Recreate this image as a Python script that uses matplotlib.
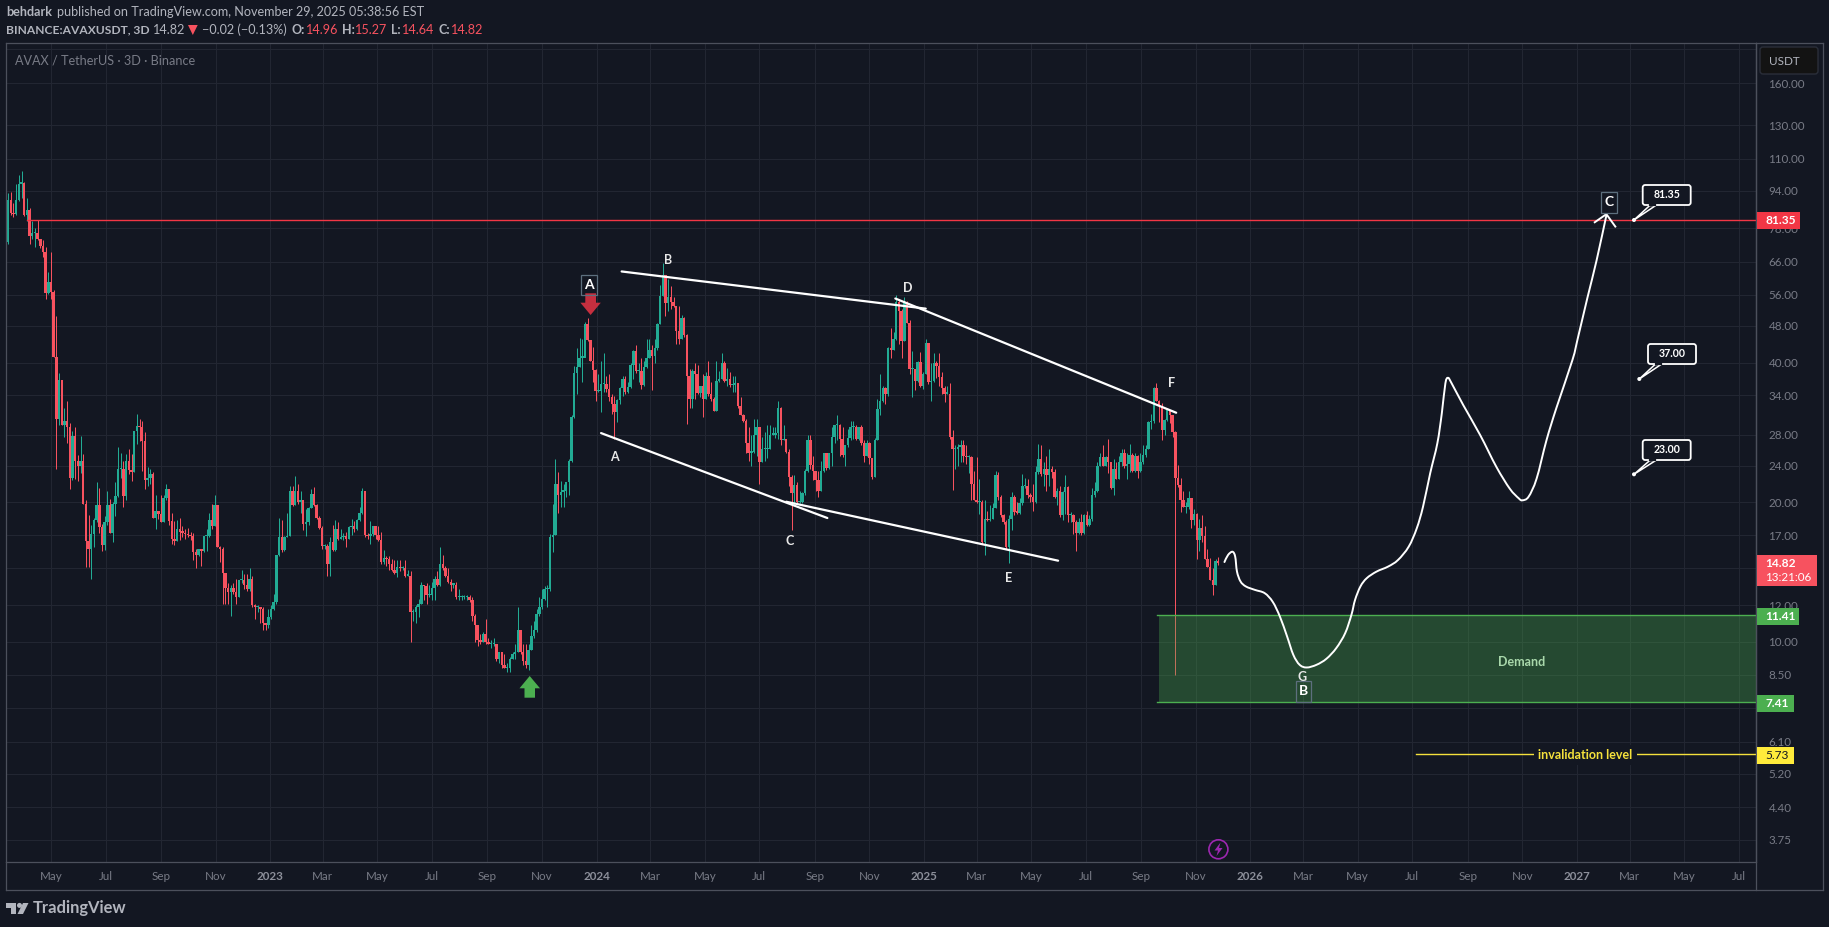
import matplotlib
matplotlib.use("Agg")
import matplotlib.pyplot as plt
import matplotlib.dates as mdates
import matplotlib.ticker as mticker
import matplotlib.transforms as mtrans
from matplotlib.lines import Line2D
from matplotlib.path import Path
from matplotlib.patches import Rectangle, FancyBboxPatch, Polygon, Circle, PathPatch
import numpy as np
import pandas as pd

W, H = 1829, 927
FONT = "Lato"
plt.rcParams["font.family"] = [FONT, "DejaVu Sans"]

# ---------- data: 3-day candles ----------
first_open = 72.7
closes = [
 89.7,83.9,83.6,89.7,97.3,97.6,83.1,85.5,75,76,
 76.2,74,71.2,69.4,56.6,59.6,56.7,41.1,30.2,36.7,
 29.4,29.9,29,22.6,27.8,24.6,24,24.5,19.8,16.5,
 15.9,17.1,18.3,19.7,17.7,16.2,18.1,19.7,17.2,19.8,
 20.6,23.6,23.6,20.6,24.5,23.5,23.3,28.5,29.2,29.1,
 27.1,22.3,22.6,23,18.5,19.2,18.9,18.1,20.4,21.4,
 18.2,16.7,16.5,17.5,17.3,17.2,17.1,17,16.9,15.6,
 15.4,15.9,15.7,16.9,16.9,18.3,17.8,19.7,16,15.9,
 14.1,13.1,12.8,13.1,12.8,12.5,13.6,13.6,13.3,13,
 13.7,12,11.9,11.9,11.8,11,10.9,11.3,11.8,12.2,
 15.4,16.8,15.8,16.8,16.9,21.2,19.7,21.2,20,20.2,
 18,18.1,19.4,20.8,19.7,18.5,17.6,16.1,16.1,14.7,
 16.4,15.8,17.5,16.7,16.8,16.9,16.7,17.7,17.8,17.5,
 18.3,19,21.2,17,16.9,17.1,17.8,17,16.6,14.9,
 15.2,15.1,14.7,14.3,14.1,14.5,14.4,14.4,13.9,13.9,
 11.6,11.6,11.9,12.1,13.3,13.2,12.6,12.6,13.1,13.7,
 13.3,14.7,14.4,13.9,13.5,13.3,13.3,12.5,12.5,12.5,
 12.5,12.5,12.3,11.4,10.9,10.1,10,10.4,10,9.9,
 9.9,9.9,9.2,9.5,8.9,8.8,8.8,9.2,9.4,9.5,
 10.6,9.5,9.1,8.9,9.6,10.3,10.6,11.5,11.9,12.4,
 13,13,16.8,17,21.9,20.7,21.1,21.2,22.1,24.5,
 30.5,38,39.1,41,41,48.5,44.8,40.3,38.5,34.7,
 34.7,36,36,35.1,33.8,32.5,31.3,33.3,35.2,36.9,
 34.6,35.4,39.6,42.4,38.4,38.4,35.8,39.2,41,42.5,
 41.3,43,48.4,55.8,61.8,53.9,55.3,54,52.9,46.8,
 45,49.9,46,37.5,33.4,38.4,37.9,34.4,35.6,33.4,
 37.5,34.3,33.4,31.5,36.5,36.8,40,36.5,36.9,35.8,
 35.8,36.2,32.3,30.9,30,26.9,25.6,25.7,28,29,
 24.4,26,26,26.1,28,28,28.2,32,27.2,27.4,
 25.7,22.7,20.9,21.8,20,20,20.9,23.4,27.2,24.1,
 23.4,22.3,21.2,23.4,25.5,23.7,25.5,27.6,29.3,29.3,
 27.4,25.3,26.6,27.5,29.1,29.1,27.4,29.1,26.9,25.2,
 26.9,24.9,22.7,27.3,31.8,33.1,35.2,34.2,43,42.7,
 44.9,54.1,51.6,44.6,53.9,48.8,38.7,38.7,36.5,40.2,
 35.6,37.9,44,36.3,36.5,40,39.3,37.2,35.2,34.3,
 34.3,27.6,26,26,26.3,26.6,25.2,25,25,21.9,
 20.2,20,20,16.4,18.4,18.3,18.4,19.4,22.9,
 20.5,18.8,18.1,16,18.4,20.5,19.1,19,19.9,21.7,
 21.7,20.7,20.5,20,23.2,24.8,23,23.6,22.9,23.6,
 23.2,20.5,21.2,18.8,21,21.6,18.8,18.8,18.1,17.2,
 18.1,17.2,18.8,17.9,18.4,20.7,21.2,24,25,23.9,
 25,24.4,21.5,23.6,22.5,24.4,25.6,23.9,24.2,25.3,
 23.4,25.2,23.4,24.4,25.3,26,29.8,29.9,35.3,33,
 32.3,28.6,30.1,31.6,30.8,28.4,22.6,21.8,20.2,19.5,
 19.5,20.4,18.3,18.9,16.6,17.6,16.9,15.1,14.5,13.6,
 13.3,14.96,14.82,
]
highs = [
 92.8,93.3,88.4,96.9,101.7,103.8,98.3,90.6,86.3,81,
 78,81.3,74,73.6,71,62.7,69.2,57.5,50.5,38,
 36.7,31.9,33,29.7,28.5,29,25.3,27.8,25.4,20.2,
 18.8,17.9,18.5,22.1,21.5,18,18.7,21.2,20.3,20,
 22.1,26.3,25.5,24.5,25.4,26,25.4,28.5,31,30.2,
 29.9,28.3,23.8,23.6,23.2,20.7,19.2,20.7,20.7,21.9,
 21.4,19,18.2,18.3,18.5,17.8,17.5,17.6,17.3,17.2,
 15.9,15.9,15.9,16.9,17.5,19,19.8,20.7,19.7,16.1,
 16,14.1,13.4,13.3,13.4,13.7,13.6,14.3,14,14,
 14.4,13.9,12.1,12,11.9,11.9,11,11.8,12,12.7,
 15.4,18.5,18.3,16.9,19,21.7,21.7,22.8,21.9,21.2,
 20.2,19.3,19.5,21.4,21.6,19.8,18.7,17.8,16.3,16.3,
 16.8,17.9,18.3,18.1,17.5,17.2,17.3,17.8,18.4,18.2,
 18.4,19.5,21.5,21.2,17.2,18.2,17.8,17.6,17.8,17.3,
 15.8,15.3,15.3,15.1,15,15,15,14.6,15,14.3,
 14.2,11.8,12,12.4,13.5,13.3,13.4,13.3,13.5,13.9,
 14.2,16,15.4,14.6,14.4,13.7,13.4,13.5,13,12.6,
 12.6,12.6,12.6,12.5,11.5,10.9,10.4,10.5,11.2,10.2,
 10.1,10.2,9.9,9.5,9.5,9.4,9,9.3,9.5,9.9,
 11.9,10.6,9.9,9.9,9.9,10.9,11.1,11.8,12.5,13,
 13.2,13.3,17.1,19.8,24.8,23.2,22.2,21.9,22.1,24.8,
 30.8,39.4,43,45.3,44.9,49,50,44.6,43.2,38.7,
 37.8,40.3,41.9,37.5,37.8,34.3,33.9,33.4,35.4,37.5,
 37.5,36.3,40,42.7,43.6,40,41,40.3,44.9,44.9,
 43.7,44.9,48.8,58.7,65.6,61.5,60.6,58.5,55.3,52.9,
 53,50.6,50.3,46.2,38.7,38.7,39.9,39.6,35.6,37.9,
 38.1,40.3,36.3,33.7,40.3,38.4,41.9,40.3,39,38.1,
 37.5,37.5,36.2,33.7,31,30.3,29.1,28,30.3,30.3,
 29.1,27.6,28.3,29.3,29.3,29.1,29,33,32.1,29.3,
 27.4,26,22.9,22.9,22.1,21.2,21,23.6,28,27.9,
 25.2,23.4,23.4,24.6,25.5,25.6,25.6,29.1,29.3,30.9,
 29.5,29.1,26.6,28.8,29.9,30,29.3,29.1,29.3,27.2,
 27.2,27,24.9,27.5,33.4,37.9,35.6,35.4,43.2,47.6,
 46.5,56,54.8,52.1,55.3,54.4,49.4,42.4,38.7,40.3,
 42.1,38.1,45,44.1,40,42,40.3,42,38.1,35.6,
 35.6,36.2,28.6,26.6,26.7,27.3,27.2,26.6,25.3,25.2,
 23.4,25,22.5,20.2,20.2,19.2,19.7,19.9,23.4,
 23.2,20.7,18.9,18.3,18.8,21,20.7,20,20.4,23,
 22.6,22.5,20.9,21.9,24,26.7,26.6,24.4,25.2,26.1,
 24,23.6,21.5,21.7,21.2,22.9,21.7,19.1,18.9,18.3,
 18.5,18.9,18.9,19.2,18.8,21.5,22.1,24.4,25.6,26.6,
 25.2,27.4,24.4,24.8,24.4,25.2,26,26.1,25.5,26.7,
 25.5,25.5,25.3,25.5,26.6,26.6,30,31,35.5,36.2,
 33.2,32.8,30.3,32,31.6,30.8,28.5,24.1,22.6,21.2,
 20,21.2,20.4,19.3,19,18.4,18.8,17.8,15.9,15.2,
 14.4,15.1,15.27,
]
lows = [
 72,83.4,82.5,83.1,89.3,90.6,82.8,81,72.2,74,
 71,73.4,70.8,67.5,54.9,56.3,54.9,41.1,23.6,29.3,
 29.3,27.6,26.8,21.4,22.3,22.5,22.2,23.1,19.8,14.5,
 14.5,13.7,16,18.1,17.2,15.7,15.8,17.9,17.2,16.4,
 18.7,20.5,22.6,19.5,20.2,23,22.2,23.2,26.7,27.1,
 23.4,21.4,21.7,21.9,18.5,17.5,18.4,18.1,18.1,20.2,
 17.9,16.3,16.2,16.5,16.6,16.8,16.7,16.8,16.6,15,
 14.4,15.3,14.6,15.6,15.7,16.8,17.5,17.8,16,14.9,
 12.1,12.1,12.1,11.4,12.7,12.1,12.5,13.4,13,12.9,
 12.9,11.9,11.2,11.6,11,10.6,10.6,10.7,11.2,11.7,
 12.1,15.3,15.6,15.7,16.8,16.9,19.6,19.7,19.8,19,
 17.4,16.9,17.9,19.4,19.6,18.4,17.5,15.9,15.9,13.9,
 13.9,15.7,15.7,16.6,16.7,16.6,16,16.7,17,17.3,
 17.4,18.2,18.9,16.8,16.7,16.3,16.9,16.7,16.5,14.7,
 14.7,14.6,14.3,14.2,14,13.8,14.2,14.3,13.8,13.9,
 10,11.1,11,11.3,12.1,12.3,12.1,12.5,12.3,12.3,
 13.2,13.2,14.3,13.8,13.4,12.9,13.1,12.4,12.3,12.3,
 12.4,12.3,12.2,11.1,10,9.8,9.9,10,9.9,9.9,
 9.7,9.8,9.1,9,8.8,8.8,8.6,8.6,9.2,9.2,
 9.5,9.4,8.9,8.8,8.7,9.6,10.2,10.5,11.4,11.8,
 12.3,11.9,12.9,15.6,17,19,19.5,19.5,20.5,20.7,
 24.4,30.4,34.2,39.1,36.4,43.2,44.6,40.3,36.3,33.1,
 34.6,31.3,34.6,34.6,33.1,31,27.4,29.8,32.5,33.9,
 34.3,34.4,35.3,36.9,38,36.3,35.1,35.7,39,41,
 34.9,40,42.7,48.4,55.8,50.4,51.8,52.1,52.6,43.8,
 43.8,45,45.4,29.5,32,32,33.4,34.3,33.7,30.6,
 33.4,33.9,33.1,31.5,31.5,36.3,36.8,36.4,35.6,35.4,
 34.6,34.6,32,30.8,29.8,25.6,24.6,23.9,25.5,25.2,
 21.9,24.4,24.6,24.9,26,27.9,27.5,27.4,26.6,27.2,
 25.6,21.7,17.4,19.7,19.9,19.9,19.9,20.7,23.3,23.6,
 22.3,21.2,20.5,21.2,23.2,23.5,23.6,24,26.9,27.3,
 25.2,25.1,24,26.3,27.3,27.4,27.2,27.3,26.6,24.4,
 25.2,24.2,22.5,22.7,27.3,30.8,32.9,32.5,33.9,41,
 42.5,44.8,43.8,41,44.5,48.7,37.9,33.8,34.9,36.4,
 35.4,35.1,37.8,36,33,36.4,37,35.6,34.3,32.9,
 34.2,27.4,21.3,23.6,23.9,24.4,24.4,24.2,23.1,20.2,
 20.2,19.9,18.9,16.3,15.4,18.2,18.2,18.4,19.4,
 20.2,18.6,18,15.9,14.8,17.4,18.8,18.9,18.9,19.7,
 21.5,20.4,20,19.2,19.9,23,22.8,21.7,21.2,21.7,
 22.6,20.4,19.7,18.6,18.3,18.9,18.1,18.1,17.1,15.7,
 17.1,17,17.1,17.8,17.8,18.2,20.5,21.1,23.9,23.9,
 23.9,23.1,21.4,20.7,22.4,22.4,23.9,23.7,22.4,23.2,
 23.2,23.2,22.6,23.2,24.2,25.1,26,28.8,29.7,33,
 29.8,27.2,27.9,30,29.7,27.6,8.5,21.6,19.1,19.5,
 19,19.3,17.6,17.9,15.1,15.7,16.4,15.1,14.5,13.6,
 12.6,13.3,14.64,
]
last_bar = "2025-11-26"

# ---------- data: drawings ----------
path_dates = ["2025-12-03","2025-12-07","2025-12-12","2025-12-15","2025-12-17","2025-12-21","2025-12-27",
 "2026-01-06","2026-01-17","2026-01-26","2026-02-03","2026-02-11","2026-02-18","2026-02-25","2026-03-05",
 "2026-03-16","2026-03-27","2026-04-07","2026-04-17","2026-04-24","2026-04-28","2026-05-04","2026-05-11",
 "2026-05-22","2026-06-04","2026-06-15","2026-06-27","2026-07-06","2026-07-13","2026-07-21","2026-07-29",
 "2026-08-03","2026-08-07","2026-08-10","2026-08-14","2026-08-27","2026-09-15","2026-10-03","2026-10-18",
 "2026-10-28","2026-11-01","2026-11-08","2026-11-17","2026-11-28","2026-12-09","2026-12-27","2027-01-02",
 "2027-01-13","2027-01-23","2027-02-03"]
path_prices = [14.87,15.4,15.65,15.27,14.18,13.5,13.17,12.95,12.74,12.2,11.34,10.28,9.38,8.93,8.81,8.93,9.2,9.7,
 10.45,11.45,12.32,13.17,13.72,14.18,14.54,15.02,16.05,17.58,19.57,23.1,26.8,31.1,36.1,37.1,36.1,32.4,27.9,
 23.85,21.4,20.4,20.2,20.56,22.5,27.2,31.9,40.5,45.1,55.4,66.4,83.1]
arrow_dates = ["2027-01-21","2027-02-03","2027-02-13"]
arrow_prices = [80.3,83.6,78.6]
trend_upper = (["2024-01-29","2025-01-03"],[62.9,52.3])
trend_upper2 = (["2024-11-30","2025-10-10"],[55.0,31.2])
trend_lower = (["2024-01-06","2024-09-15"],[28.2,18.5])
trend_lower2 = (["2024-07-31","2025-05-31"],[20.06,14.97])
resistance = 81.35
resistance_start = "2022-04-04"
demand_high, demand_low = 11.41, 7.41
demand_start = "2025-09-21"
invalidation = 5.73
invalidation_start = "2026-07-05"

price_ticks = [190,160,130,110,94,78,66,56,48,40,34,28,24,20,17,14.4,12,10,8.5,7.2,6.1,5.2,4.4,3.75]
hidden_price_ticks = [190,14.4,7.2]
time_ticks = ["2022-05-01","2022-07-01","2022-09-01","2022-11-01","2023-01-01","2023-03-01","2023-05-01",
 "2023-07-01","2023-09-01","2023-11-01","2024-01-01","2024-03-01","2024-05-01","2024-07-01","2024-09-01",
 "2024-11-01","2025-01-01","2025-03-01","2025-05-01","2025-07-01","2025-09-01","2025-11-01","2026-01-01",
 "2026-03-01","2026-05-01","2026-07-01","2026-09-01","2026-11-01","2027-01-01","2027-03-01","2027-05-01","2027-07-01"]
time_labels = ["May","Jul","Sep","Nov","2023","Mar","May","Jul","Sep","Nov","2024","Mar","May","Jul","Sep","Nov",
 "2025","Mar","May","Jul","Sep","Nov","2026","Mar","May","Jul","Sep","Nov","2027","Mar","May","Jul"]

# ---------- colours ----------
BG = "#131722"; GRID = "#222632"; AXIS = "#4c505c"; TICK = "#787b86"; HEAD = "#b2b5be"
UP = "#22ab94"; DOWN = "#f7525f"; RED = "#f23645"; GREEN = "#4caf50"; YEL = "#ffeb3b"; BOXEDGE = "#5d6f7e"

# ---------- figure ----------
fig = plt.figure(figsize=(W/100, H/100), dpi=100, facecolor=BG)
T = mtrans.Affine2D().scale(1/W, -1/H).translate(0, 1) + fig.transFigure  # reference pixels -> figure
L, R, TOP, BOT = 6, 1756, 43.3, 862.3
ax = fig.add_axes([L/W, 1-BOT/H, (R-L)/W, (BOT-TOP)/H], facecolor=BG)
ax.set_yscale("log")
ax.set_ylim(3.35, 195.2)
d0 = mdates.date2num(pd.Timestamp("2024-01-01"))
ax.set_xlim(d0+(L-596.6)/0.8944, d0+(R-596.6)/0.8944)
ax.autoscale(False)

n = len(closes)
dates = pd.date_range(end=last_bar, periods=n, freq="3D")
x = mdates.date2num(dates)
opens = [first_open] + closes[:-1]
colors = [UP if c >= o else DOWN for o, c in zip(opens, closes)]
ax.vlines(x, lows, highs, colors=colors, linewidth=0.72, zorder=2)
tops = [max(max(o, c), min(o, c)*1.006) for o, c in zip(opens, closes)]
bots = [min(o, c) for o, c in zip(opens, closes)]
ax.bar(x, [t-b for t, b in zip(tops, bots)], bottom=bots, width=2.75, color=colors, linewidth=0, zorder=2.2)

def dn(s):
    return mdates.date2num(pd.to_datetime(s))

# grid and axes
ax.set_yticks(price_ticks)
ax.set_yticklabels(["" if p in hidden_price_ticks else f"{p:.2f}" for p in price_ticks])
ax.yaxis.set_minor_locator(mticker.NullLocator())
ax.yaxis.tick_right()
ax.set_xticks(dn(time_ticks))
ax.set_xticklabels(time_labels)
ax.tick_params(axis="both", length=0, colors=TICK, labelsize=8.4)
ax.tick_params(axis="y", pad=9)
ax.tick_params(axis="x", pad=6)
for lab in ax.get_xticklabels():
    if lab.get_text().isdigit():
        lab.set_fontweight("bold"); lab.set_color("#8c8f9a")
ax.grid(True, color=GRID, linewidth=0.8, zorder=0)
ax.set_axisbelow(True)
for s in ax.spines.values():
    s.set_color(AXIS); s.set_linewidth(0.9)

# drawings in price/date space
right_edge = ax.get_xlim()[1]
ax.add_patch(Rectangle((dn(demand_start), demand_low), right_edge-dn(demand_start), demand_high-demand_low,
                       facecolor=GREEN, alpha=0.33, linewidth=0, zorder=3))
ax.plot([dn(demand_start)-2, right_edge], [demand_high]*2, color=GREEN, lw=1.0, zorder=3.1)
ax.plot([dn(demand_start)-2, right_edge], [demand_low]*2, color=GREEN, lw=1.0, zorder=3.1)
ax.plot([dn(resistance_start), right_edge], [resistance]*2, color=RED, lw=1.0, zorder=3)
ax.plot([dn(invalidation_start), right_edge], [invalidation]*2, color="#f5e13c", lw=1.0, zorder=3)
for tl in (trend_upper, trend_upper2, trend_lower, trend_lower2):
    ax.plot(dn(tl[0]), tl[1], color="white", lw=1.6, zorder=4, solid_capstyle="round")

# the hand-drawn projection is a smooth Bezier curve through its anchors
px_ = np.asarray(dn(path_dates), float)
pl_ = np.log(path_prices)
verts = [(px_[0], path_prices[0])]
codes = [Path.MOVETO]
m = len(px_)
for i in range(m-1):
    a, b = max(i-1, 0), min(i+2, m-1)
    verts.append((px_[i]+(px_[i+1]-px_[a])/6, float(np.exp(pl_[i]+(pl_[i+1]-pl_[a])/6))))
    verts.append((px_[i+1]-(px_[b]-px_[i])/6, float(np.exp(pl_[i+1]-(pl_[b]-pl_[i])/6))))
    verts.append((px_[i+1], path_prices[i+1]))
    codes += [Path.CURVE4]*3
ax.add_patch(PathPatch(Path(verts, codes), facecolor="none", edgecolor="white", lw=1.4, zorder=4,
                       capstyle="round", joinstyle="round"))
ax.plot(dn(arrow_dates), arrow_prices, color="white", lw=1.4, zorder=4)

# helpers working in reference pixels
def ftext(xp, yp, s, **kw):
    kw.setdefault("color", HEAD); kw.setdefault("fontsize", 8.8)
    kw.setdefault("va", "center"); kw.setdefault("ha", "left")
    return fig.text(xp, yp, s, transform=T, **kw)
def frect(x0, y0, x1, y1, **kw):
    p = Rectangle((x0, y0), x1-x0, y1-y0, transform=T, **kw)
    fig.add_artist(p); return p
def fpoly(pts, **kw):
    p = Polygon(pts, closed=True, transform=T, **kw)
    fig.add_artist(p); return p
def fline(xs, ys, **kw):
    l = Line2D(xs, ys, transform=T, **kw)
    fig.add_artist(l); return l

# outer frame
fline([R, R], [TOP, 890], color=AXIS, lw=0.9)
fline([L, L], [BOT, 890], color=AXIS, lw=0.9)
fline([L, 1822.7], [890, 890], color=AXIS, lw=0.9)
fline([R, 1822.7], [TOP, TOP], color=AXIS, lw=0.9)
fline([1822.7, 1822.7], [TOP, 890], color=AXIS, lw=0.9)

# header
ftext(6.5, 12.3, "behdark", fontweight="bold", fontsize=9.1)
ftext(57, 12.3, "published on TradingView.com, November 29, 2025 05:38:56 EST", fontsize=9.1)
ftext(6.5, 29.7, "BINANCE:AVAXUSDT, 3D", fontweight="bold", fontsize=8.65)
ftext(153, 29.7, "14.82", fontsize=9.1)
fpoly([(188, 25), (197.7, 25), (192.8, 35)], facecolor=DOWN, linewidth=0)
ftext(202.5, 29.7, "\u22120.02 (\u22120.13%)", fontsize=9.1)
for xp, s in [(291, "O:"), (342.4, "H:"), (391.4, "L:"), (438.5, "C:")]:
    ftext(xp, 29.7, s, fontweight="bold", fontsize=9)
for xp, s in [(306, "14.96"), (355, "15.27"), (402, "14.64"), (450.6, "14.82")]:
    ftext(xp, 29.7, s, color=DOWN, fontsize=9.1)
ftext(15, 60.3, "AVAX / TetherUS \u00b7 3D \u00b7 Binance", color=TICK, fontsize=9.1)

# wave letters
for xp, yp, s in [(668, 260, "B"), (614.7, 456.7, "A"), (789.8, 540.7, "C"), (907.4, 287.7, "D"),
                  (1009, 577.7, "E"), (1172, 382.7, "F"), (1302, 677.3, "G")]:
    ftext(xp, yp, s, color="#e8e8e8", fontsize=9, ha="center", fontweight="bold", zorder=6)
for x0, y0, x1, y1, s in [(581, 275, 596.7, 295, "A"), (1295.5, 681, 1310.6, 701.7, "B"), (1601, 192, 1616.7, 212.7, "C")]:
    frect(x0, y0, x1, y1, facecolor="none", edgecolor=BOXEDGE, linewidth=0.9, zorder=6)
    ftext((x0+x1)/2, (y0+y1)/2, s, color="white", fontsize=10, fontweight="bold", ha="center", zorder=7)

# block arrows
fpoly([(585.3, 293.3), (596, 293.3), (596, 302.7), (600.8, 302.7), (590.6, 315), (580.4, 302.7), (585.3, 302.7)],
      facecolor="#c62f3f", linewidth=0, zorder=5)
fpoly([(529.7, 676), (540, 688.3), (535, 688.3), (535, 697.7), (524.5, 697.7), (524.5, 688.3), (519.5, 688.3)],
      facecolor=GREEN, linewidth=0, zorder=5)

# text on the demand zone and invalidation
ftext(1521.4, 661.7, "Demand", color="#a9d8ab", fontsize=9, fontweight="bold", ha="center", zorder=6)
ftext(1585.6, 755, "invalidation level", color="#f5e13c", fontsize=9, fontweight="bold", ha="center", zorder=6,
      bbox=dict(facecolor=BG, edgecolor="none", pad=3))

# callouts
for xb, yb, xd, yd, s in [(1642.7, 185, 1634, 220, "81.35"), (1648, 344, 1639.3, 379, "37.00"), (1642.7, 440, 1634, 474.3, "23.00")]:
    box = FancyBboxPatch((xb+2, yb+2), 44, 16, boxstyle="round,pad=2,rounding_size=2.5", transform=T,
                         facecolor=BG, edgecolor="white", linewidth=1.3, zorder=6)
    fig.add_artist(box)
    fpoly([(xd, yd), (xb+7, yb+20.5), (xb+13, yb+20.5)], facecolor=BG, edgecolor="white", linewidth=1.1, zorder=6.1)
    fline([xb+7.5, xb+12.5], [yb+20, yb+20], color=BG, lw=1.6, zorder=6.2)
    fig.add_artist(Circle((xd, yd), 2, transform=T, facecolor="white", edgecolor="none", zorder=6.3))
    ftext(xb+24, yb+9.5, s, color="white", fontsize=7.6, fontweight="bold", ha="center", zorder=7)

# price scale labels
usdt = FancyBboxPatch((1762, 49), 54, 23, boxstyle="round,pad=2,rounding_size=3", transform=T,
                      facecolor="#131313", edgecolor="#2a2e39", linewidth=1, zorder=6)
fig.add_artist(usdt)
ftext(1769, 61.5, "USDT", color=HEAD, fontsize=8.4, zorder=7)
for x1, y0, y1, col, s, tc in [(1800, 212, 229, RED, "81.35", "white"), (1799.4, 608, 625, GREEN, "11.41", "white"),
                               (1793.7, 695, 712, GREEN, "7.41", "white"), (1794, 747, 764, YEL, "5.73", "#131722")]:
    frect(1757, y0, x1, y1, facecolor=col, linewidth=0, zorder=6)
    ftext(1765, (y0+y1)/2, s, color=tc, fontsize=8.6, fontweight="bold" if tc == "white" else "normal", zorder=7)
frect(1757, 555, 1817, 586, facecolor=DOWN, linewidth=0, zorder=6)
ftext(1765, 563.7, "14.82", color="white", fontsize=8.6, fontweight="bold", zorder=7)
ftext(1765, 577.7, "13:21:06", color="white", fontsize=8.4, zorder=7)

# lightning badge
fig.add_artist(Circle((1218.4, 849.3), 9.5, transform=T, facecolor="none", edgecolor="#9c27b0", linewidth=1.2, zorder=6))
fpoly([(1220.5, 842.5), (1214.5, 850.5), (1218, 850.5), (1216.5, 856), (1222.5, 848), (1219, 848)],
      facecolor="#9c27b0", linewidth=0, zorder=6)

# TradingView logo
LOGO = "#b2b5be"
fpoly([(6, 903), (16, 903), (16, 914), (11, 914), (11, 908), (6, 908)], facecolor=LOGO, linewidth=0)
fig.add_artist(Circle((19.5, 905.4), 2.5, transform=T, facecolor=LOGO, edgecolor="none"))
fpoly([(23, 903), (28.5, 903), (23, 914), (17.5, 914)], facecolor=LOGO, linewidth=0)
ftext(33, 908.5, "TradingView", color=LOGO, fontsize=11.9, fontweight="bold")

fig.savefig("out.png", dpi=100, facecolor=BG)
